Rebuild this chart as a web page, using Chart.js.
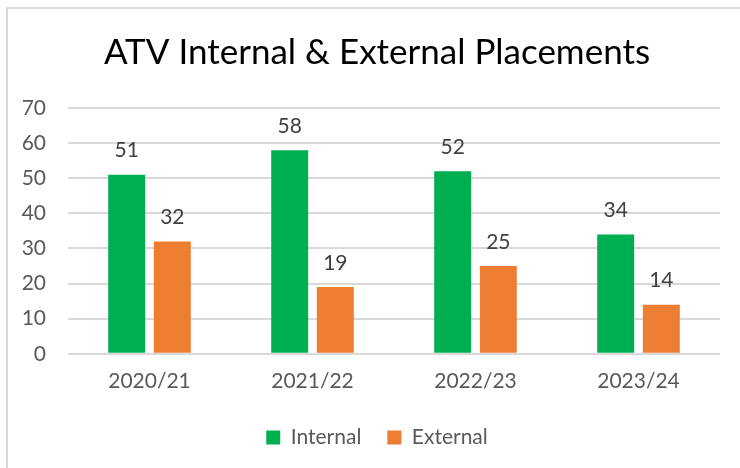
<!DOCTYPE html>
<html>
<head>
<meta charset="utf-8">
<script src="https://cdn.jsdelivr.net/npm/chart.js@4/dist/chart.umd.min.js"></script>
<style>
  html, body { margin: 0; padding: 0; background: #fff; }
  #wrap {
    position: absolute; left: 6px; top: 7px;
    width: 734px; height: 461px;
    border-left: 2px solid #d9d9d9; border-top: 2px solid #d9d9d9;
  }
</style>
</head>
<body>
<div id="wrap"><canvas id="chart" width="732" height="459"></canvas></div>
<script>
// categories and values
const years = ['2020/21', '2021/22', '2022/23', '2023/24'];
const internalPlacements = [51, 58, 52, 34];
const externalPlacements = [32, 19, 25, 14];

const FONT = 'Lato, "Open Sans", sans-serif';

// draws the value above each bar
const valueLabels = {
    id: 'valueLabels',
    afterDatasetsDraw(chart) {
        const ctx = chart.ctx;
        ctx.save();
        ctx.font = `21px ${FONT}`;
        ctx.fillStyle = '#404040';
        ctx.textAlign = 'center';
        ctx.textBaseline = 'middle';
        chart.data.datasets.forEach((ds, i) => {
            chart.getDatasetMeta(i).data.forEach((bar, j) => {
                ctx.fillText(ds.data[j], bar.x, bar.y - 24);
            });
        });
        ctx.restore();
    }
};

new Chart(document.getElementById('chart').getContext('2d'), {
    type: 'bar',
    data: {
        labels: years,
        datasets: [{
            label: 'Internal',
            data: internalPlacements,
            backgroundColor: '#00b050',
            categoryPercentage: 0.56,
            barPercentage: 0.81
        }, {
            label: 'External',
            data: externalPlacements,
            backgroundColor: '#ed7d31',
            categoryPercentage: 0.56,
            barPercentage: 0.81
        }]
    },
    options: {
        responsive: false,
        animation: false,
        layout: {
            padding: { left: 6, right: 0, top: 15, bottom: 10 }
        },
        plugins: {
            title: {
                display: true,
                text: 'ATV Internal & External Placements',
                color: '#000',
                font: { family: FONT, size: 35, weight: 'normal' },
                padding: { top: 8, bottom: 34 }
            },
            legend: {
                position: 'bottom',
                labels: {
                    color: '#595959',
                    font: { family: FONT, size: 21 },
                    boxWidth: 14,
                    boxHeight: 14,
                    padding: 26
                }
            },
            tooltip: { enabled: false }
        },
        scales: {
            x: {
                grid: { display: false },
                border: { display: false },
                ticks: {
                    color: '#595959',
                    font: { family: FONT, size: 21 },
                    padding: 7
                }
            },
            y: {
                min: 0,
                max: 70,
                afterFit(scale) { scale.width = 54; },
                ticks: {
                    stepSize: 10,
                    color: '#595959',
                    font: { family: FONT, size: 21 },
                    padding: 22
                },
                grid: { color: '#d9d9d9', lineWidth: 2, drawTicks: false },
                border: { display: false }
            },
            // empty right margin, keeps the title and legend centred like the original
            spacer: {
                type: 'linear',
                position: 'right',
                afterFit(scale) { scale.width = 20; },
                ticks: { display: false },
                grid: { display: false },
                border: { display: false }
            }
        }
    },
    plugins: [valueLabels]
});
</script>
</body>
</html>
